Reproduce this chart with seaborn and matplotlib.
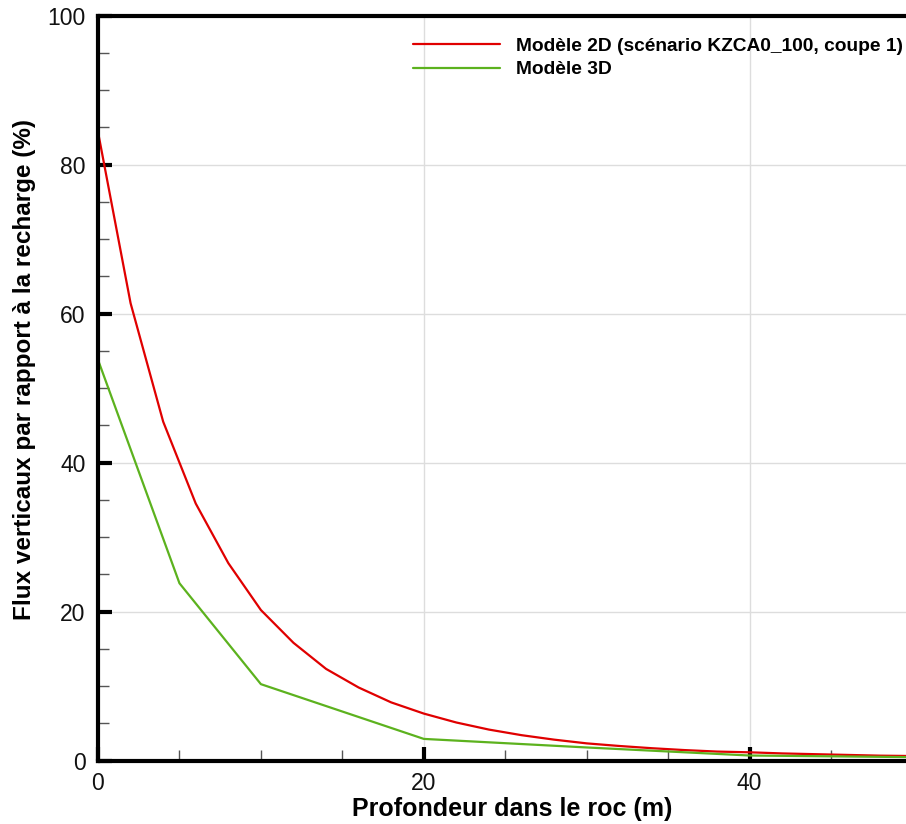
import numpy as np
import pandas as pd
import matplotlib
matplotlib.use("Agg")
import matplotlib.pyplot as plt
import seaborn as sns
from matplotlib.ticker import MultipleLocator

# Data
depth_2d = [0, 2, 4, 6, 8, 10, 12, 14, 16, 18, 20, 22, 24, 26, 28, 30, 32, 34, 36, 38, 40, 42, 44, 46, 48, 50]
flux_2d = [84.4, 61.4, 45.5, 34.5, 26.5, 20.2, 15.8, 12.3, 9.8, 7.8, 6.3, 5.1, 4.15, 3.4, 2.8, 2.3, 1.95, 1.65, 1.4, 1.2, 1.1, 0.95, 0.85, 0.75, 0.65, 0.6]
depth_3d = [0, 5, 10, 20, 30, 40, 50]
flux_3d = [53.8, 23.8, 10.25, 2.9, 1.75, 0.67, 0.45]
label_2d = "Modèle 2D (scénario KZCA0_100, coupe 1)"
label_3d = "Modèle 3D"

df = pd.concat([
    pd.DataFrame({"x": depth_2d, "y": flux_2d, "s": label_2d}),
    pd.DataFrame({"x": depth_3d, "y": flux_3d, "s": label_3d}),
])

sns.set_theme(style="white")
plt.rcParams['font.family'] = ['Liberation Sans', 'DejaVu Sans']
plt.rcParams['text.color'] = 'black'
plt.rcParams['axes.labelcolor'] = 'black'
plt.rcParams['xtick.color'] = 'black'
plt.rcParams['ytick.color'] = 'black'

fig = plt.figure(figsize=(9.06, 8.24), dpi=100)
ax = fig.add_axes([98/906, 63.5/824, 1 - 98/906, (760.5 - 15.7)/824])

sns.lineplot(data=df, x="x", y="y", hue="s", palette={label_2d: "#e00000", label_3d: "#5cb21e"},
             linewidth=1.6, ax=ax, legend=True, sort=False)

ax.set_xlim(0, 49.6)
ax.set_ylim(0, 100)
ax.xaxis.set_major_locator(MultipleLocator(20))
ax.xaxis.set_minor_locator(MultipleLocator(5))
ax.yaxis.set_major_locator(MultipleLocator(20))
ax.yaxis.set_minor_locator(MultipleLocator(5))
ax.grid(True, which="major", color="#dddddd", linewidth=1)
ax.set_axisbelow(True)

ax.tick_params(which="major", direction="in", length=10, width=3, color="black",
               labelsize=16.5, labelcolor="#111111", bottom=True, left=True)
ax.tick_params(axis="x", which="major", pad=8)
ax.tick_params(axis="y", which="major", pad=9)
ax.tick_params(which="minor", direction="in", length=8, width=1, color="#555555", bottom=True, left=True)

for s in ["left", "bottom", "top"]:
    ax.spines[s].set_visible(True)
    ax.spines[s].set_color("black")
    ax.spines[s].set_linewidth(3)
ax.spines["right"].set_visible(False)

ax.set_xlabel("Profondeur dans le roc (m)", fontsize=18, fontweight="bold")
ax.set_ylabel("Flux verticaux par rapport à la recharge (%)", fontsize=17.5, fontweight="bold")
ax.xaxis.set_label_coords((512 - 98) / 808, (760.5 - 809) / 745)
ax.yaxis.set_label_coords((25 - 98) / 808, (760.5 - 369) / 745)
ax.xaxis.label.set_va("center")
ax.yaxis.label.set_va("center")

leg = ax.legend(loc="upper right", frameon=False, prop={"weight": "bold", "size": 13.8},
                handlelength=4.54, handletextpad=0.83, labelspacing=0.32,
                bbox_to_anchor=(1.0177, 0.994))
for line in leg.get_lines():
    line.set_linewidth(1.6)

fig.savefig("out.png", dpi=100)
